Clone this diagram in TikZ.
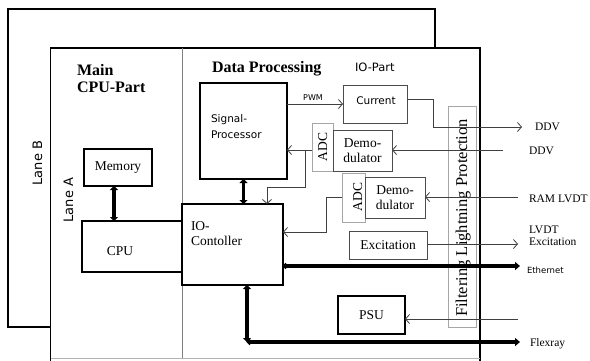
\documentclass[tikz,border=0pt]{standalone}
\usepackage{fontspec}
\setmainfont{Liberation Serif}
\setsansfont{DejaVu Sans}
\usetikzlibrary{arrows.meta,calc}
\begin{document}
\begin{tikzpicture}[x=1pt,y=-1pt,
 every node/.style={inner sep=0pt,outer sep=0pt},
 thickbox/.style={draw=black,line width=1.9pt,fill=white,anchor=north west},
 thinbox/.style={draw=black!70,line width=0.9pt,fill=white,anchor=north west},
 lightbox/.style={draw=black!35,line width=0.9pt,fill=white,anchor=north west},
 sig/.style={draw=black!75,line width=0.8pt,-{Straight Barb[length=4pt,width=9pt]}},
 dbus/.style={line width=3.4pt,{Triangle[length=4pt,width=8pt]}-{Triangle[length=4pt,width=8pt]}},
 busline/.style={line width=3.2pt,{Circle[length=5pt]}-{Triangle[length=5pt,width=8pt]}},
 rm/.style={font=\fontsize{13.5}{15}\selectfont},
 rmsmall/.style={font=\fontsize{11.5}{13}\selectfont},
 titlefont/.style={font=\fontsize{16}{18}\selectfont\bfseries},
 sf/.style={font=\sffamily\fontsize{10.5}{12}\selectfont},
]
\useasboundingbox (0,0) rectangle (590,360);

% Lane B
\node[draw,line width=1.8pt,anchor=north west,minimum width=427pt,minimum height=318pt] (laneB) at (8,9) {};
% Lane A
\node[fill=white,anchor=north west,minimum width=429.5pt,minimum height=310pt] (laneA) at (50.5,48) {};
\draw[line width=1.8pt] ([yshift=-4pt]laneA.south west) -- (laneA.north west) -- (laneA.north east) -- ([yshift=-4pt]laneA.south east);
\draw[black!30,line width=0.8pt] (laneA.south west) -- (laneA.south east);
\coordinate (divtop) at (182,48);
\draw[black!50,line width=1pt] (divtop) -- (divtop |- laneA.south);

% lane labels
\node[font=\sffamily\fontsize{13}{15}\selectfont,rotate=90,anchor=base] (lbB) at (42,163) {Lane B};
\node[font=\sffamily\fontsize{13}{15}\selectfont,rotate=90,anchor=base] (lbA) at (73,200) {Lane A};

% titles
\node[titlefont,anchor=base west] (main1) at (77,75) {Main};
\node[titlefont,anchor=base west] (main2) at (77,92) {CPU-Part};
\node[titlefont,anchor=base west] (dp) at (212,72) {Data Processing};
\node[font=\sffamily\fontsize{11.5}{13}\selectfont,anchor=base west] (iop) at (355,71) {IO-Part};

% boxes
\node[thickbox,minimum width=68pt,minimum height=37pt,rm] (mem) at (84,149) {Memory};
\node[thickbox,minimum width=100pt,minimum height=51pt] (cpu) at (82,221) {};
\node[rm] (cputxt) at (120,251) {CPU};
\node[thickbox,minimum width=101pt,minimum height=81pt] (io) at (182,204) {};
\node[rm,anchor=base west] (io1) at (191,230) {IO-};
\node[rm,anchor=base west] (io2) at (191,245) {Contoller};
\node[thickbox,minimum width=87pt,minimum height=96pt] (sp) at (200,83) {};
\node[sf,anchor=base west] (sp1) at (211,122) {Signal-};
\node[sf,anchor=base west] (sp2) at (211,138) {Processor};
\node[thinbox,minimum width=64pt,minimum height=38pt] (cur) at (343,85) {};
\node[sf] (curtxt) at (376,101) {Current};
\node[lightbox,minimum width=21pt,minimum height=48pt] (adc1) at (312,123) {};
\node[rm,rotate=90,anchor=base] (adc1t) at (327,147) {ADC};
\node[thinbox,minimum width=59pt,minimum height=41pt,rm,align=center] (dem1) at (333,130) {Demo-\\dulator};
\node[lightbox,minimum width=23pt,minimum height=49pt] (adc2) at (342,173) {};
\node[rm,rotate=90,anchor=base] (adc2t) at (362,197) {ADC};
\node[thinbox,minimum width=60pt,minimum height=41pt,rm,align=center] (dem2) at (365,177) {Demo-\\dulator};
\node[thinbox,minimum width=78pt,minimum height=28pt,rm] (exc) at (349,231) {Excitation};
\node[thickbox,minimum width=67pt,minimum height=38pt,rm] (psu) at (338,296) {PSU};
\node[lightbox,minimum width=28pt,minimum height=221pt] (filt) at (448,106) {};
\node[font=\fontsize{16.5}{18}\selectfont,rotate=90,anchor=base] (filtt) at (467,218) {Filtering Lightning Protection};

% external coordinates
\coordinate (ddvout) at (522,127);
\coordinate (ddvin) at (503,150);
\coordinate (ramin) at (518,197);
\coordinate (excout) at (518,244);
\coordinate (ethout) at (520,266);
\coordinate (psuin) at (518,319);
\coordinate (fx) at (247,342);
\coordinate (fxout) at (520,342);
\coordinate (br1) at (305,150);
\coordinate (k1) at (267,187);
\coordinate (k2) at (326,232);

% thick arrows
\draw[dbus] ([xshift=-4pt]mem.south) -- ([xshift=-4pt]mem.south |- cpu.north);
\draw[dbus] (sp.south) -- (sp.south |- io.north);

% signals
\draw[sig] (sp.east |- cur.west) -- (cur.west);
\node[font=\sffamily\fontsize{8}{9}\selectfont,anchor=base] (pwm) at (313,100) {PWM};
\draw[sig] ([yshift=5pt]cur.east) -- ++(26,0) |- (ddvout);
\draw[sig] (ddvin) -- (ddvin -| dem1.east);
\draw[sig] (adc1.west |- ddvin) -- (sp.east |- ddvin);
\draw[sig] (br1) |- (k1) -- (k1 |- io.north);
\draw[sig] (ramin) -- (ramin -| dem2.east);
\draw[sig] (adc2.west |- ramin) -| (k2) -- (k2 -| io.east);
\draw[sig] (exc.east |- excout) -- (excout);
\draw[sig] (psuin) -- (psuin -| psu.east);

% buses
\draw[busline] (io.east |- ethout) -- (ethout);
\draw[dbus] (io.south -| fx) -- (fx);
\draw[busline] (fx) -- (fxout);

% external labels
\node[rmsmall,anchor=base west] (lddv1) at (535,130) {DDV};
\node[rmsmall,anchor=base west] (lddv2) at (529,154) {DDV};
\node[rmsmall,anchor=base west] (lram) at (529,202) {RAM LVDT};
\node[rmsmall,anchor=base west] (llvdt1) at (529,233) {LVDT};
\node[rmsmall,anchor=base west] (llvdt2) at (529,245) {Excitation};
\node[font=\sffamily\fontsize{8.5}{10}\selectfont,anchor=base west] (leth) at (527,273) {Ethernet};
\node[rmsmall,anchor=base west] (lflex) at (530,346) {Flexray};
\end{tikzpicture}
\end{document}
